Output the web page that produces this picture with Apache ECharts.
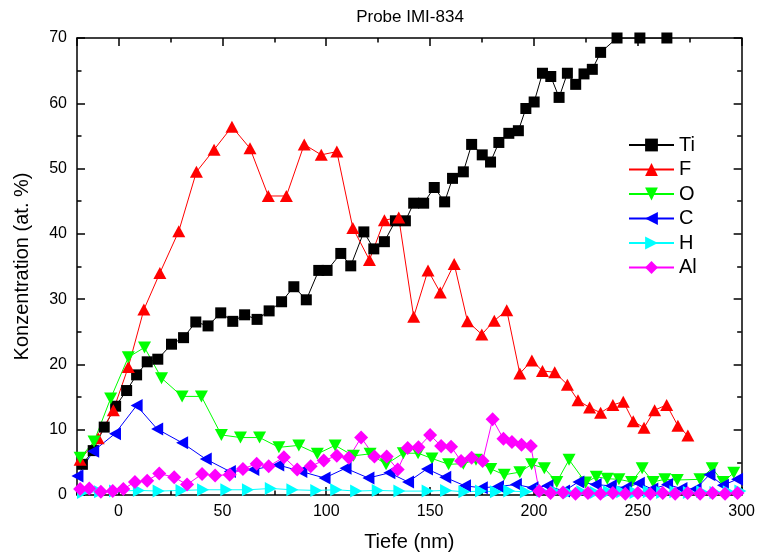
<!DOCTYPE html>
<html>
<head>
<meta charset="utf-8">
<script src="https://cdn.jsdelivr.net/npm/echarts@6/dist/echarts.min.js"></script>
<style>html,body{margin:0;padding:0;background:#fff}#c{width:758px;height:557px}</style>
</head>
<body>
<div id="c"></div>
<script>
// ---- data ----
const tiX = [-17.4,-12.2,-6.9,-1.4,3.9,8.7,13.8,18.9,25.5,31.3,37.2,43.1,49.2,55.0,60.7,66.7,72.5,78.5,84.4,90.4,96.4,100.4,107.0,111.8,118.1,122.9,128.0,133.3,138.1,142.1,146.9,152.0,157.0,160.8,166.0,170.0,175.1,179.1,183.1,187.9,192.5,196.1,200.1,204.1,208.1,212.1,216.1,220.1,224.1,228.1,232.1,240.0,251.0,264.0];
const tiY = [4.7,6.8,10.4,13.6,16.0,18.4,20.4,20.8,23.1,24.1,26.5,25.9,27.9,26.6,27.6,26.9,28.2,29.6,31.9,29.9,34.4,34.4,37.0,35.1,40.3,37.7,38.8,42.0,42.0,44.7,44.7,47.1,44.9,48.5,49.5,53.7,52.1,51.0,54.0,55.4,55.8,59.2,60.2,64.6,64.1,60.9,64.6,62.9,64.5,65.2,67.8,70,70,70];

const fX = [-18.5,-9.8,-2.5,4.7,12.2,19.9,29.0,37.5,46.0,54.6,63.3,72.1,80.8,89.4,97.6,105.1,112.8,120.8,128.0,134.9,142.1,149.0,154.9,161.6,168.0,174.9,180.9,186.9,193.2,199.0,204.1,210.0,216.1,221.2,226.8,232.1,238.0,243.0,247.8,253.0,258.1,263.9,269.3,274.1];
const fY = [5.4,8.7,13.0,19.6,28.4,34.0,40.4,49.5,52.9,56.4,53.1,45.8,45.8,53.7,52.1,52.6,40.9,36.0,42.1,42.5,27.3,34.4,31.0,35.4,26.6,24.6,26.7,28.3,18.6,20.6,19.0,18.8,16.9,14.5,13.4,12.6,13.8,14.3,11.3,10.3,13.0,13.8,10.6,9.1];

const oX = [-18.5,-11.8,-3.8,4.7,12.5,20.7,30.6,39.9,49.5,58.7,67.9,77.2,86.8,95.7,104.3,113.1,121.1,128.8,137.1,144.2,150.9,158.9,166.0,172.1,179.2,185.7,193.2,198.9,205.0,211.0,216.9,224.9,230.0,235.3,240.9,247.0,252.1,257.4,263.0,269.0,279.9,285.8,291.1,296.2];
const oY = [5.7,8.2,14.8,21.1,22.6,17.9,15.1,15.1,9.2,8.8,8.8,7.3,7.6,6.3,7.6,6.0,6.3,4.7,6.4,6.4,5.6,4.7,4.8,5.4,4.0,3.1,3.5,4.7,4.1,2.0,5.4,1.9,2.8,2.5,2.4,2.0,4.1,2.0,2.4,2.3,2.4,4.1,2.0,3.4];

const cX = [-19.8,-12.2,-1.7,8.7,18.6,30.6,42.0,53.6,64.9,76.9,88.0,99.2,109.3,120.3,130.4,139.4,148.5,157.3,166.8,174.9,182.7,191.3,199.3,206.5,214.5,221.4,229.7,237.0,244.2,250.5,257.0,264.1,271.0,277.8,284.5,291.0,297.8];
const cY = [2.9,6.7,9.4,13.7,10.1,8.0,5.5,3.6,3.9,4.6,3.6,2.6,4.1,2.6,3.4,2.0,4.0,2.7,1.4,1.1,1.3,1.6,1.1,1.4,0.6,2.0,1.6,1.4,1.1,1.8,0.9,1.6,1.0,0.9,3.1,1.5,2.4];

const hX = [-17.1,-8.9,-1.7,9.8,19.3,30.3,40.7,51.9,62.3,73.3,83.7,95.2,104.8,114.4,124.8,135.2,148.8,157.7,166.5,174.5,181.7,188.1,196.1,204.1,210.5,216.9,223.3,229.7,236.1,242.5,248.9,255.3,261.7,268.1,274.6,281.0,287.4,293.8,299.4];
const hY = [0.4,0.5,0.6,0.7,0.6,0.7,0.8,0.8,0.8,1.0,0.8,0.7,0.8,0.6,0.7,0.6,0.6,0.7,0.5,0.6,0.5,0.6,0.5,0.6,0.5,0.4,0.5,0.4,0.5,0.5,0.4,0.5,0.4,0.5,0.4,0.5,0.4,0.5,0.6];

const alX = [-18.5,-14.1,-8.5,-2.8,2.3,7.9,13.8,19.6,26.8,33.0,40.2,46.5,53.5,59.9,66.5,72.3,79.6,86.0,92.5,98.8,105.1,110.9,116.8,123.2,129.1,134.4,139.2,144.4,150.0,155.3,160.1,164.9,170.0,175.3,180.1,185.3,189.4,194.0,198.5,202.5,208,214,220,226,232,238,244,250,256,262,268,274,280,286,292,298];
const alY = [0.9,1.0,0.5,0.6,0.9,2.0,2.2,3.3,2.7,1.6,3.2,3.0,3.1,4.0,4.8,4.4,5.8,3.9,4.4,5.3,6.0,5.7,8.8,5.9,5.9,3.9,7.2,7.3,9.2,7.5,7.4,5.2,5.7,5.2,11.6,8.6,8.1,7.7,7.5,0.6,0.3,0.4,0.2,0.3,0.2,0.3,0.2,0.3,0.2,0.3,0.2,0.3,0.2,0.3,0.2,0.3];

const seriesNames = ['Ti','F','O','C','H','Al'];
const xTickLabels = [0,50,100,150,200,250,300];
const yTickLabels = [0,10,20,30,40,50,60,70];

// ---- chart ----
const FONT = "'Liberation Sans', Arial, sans-serif";
const pair = (xs, ys) => xs.map((x, i) => [x, ys[i]]);
const chart = echarts.init(document.getElementById('c'), null, {renderer: 'canvas'});

const tickBase = {show: true, inside: true, length: 8, lineStyle: {color: '#000', width: 1.5}};
const minorBase = {show: true, splitNumber: 2, length: 4.5, lineStyle: {color: '#000', width: 1.5}};
const lineBase = {show: true, onZero: false, lineStyle: {color: '#000', width: 1.5}};

function mkSeries(name, xs, ys, color, symbol, rot, size) {
  return {
    name, type: 'line', data: pair(xs, ys),
    symbol, symbolRotate: rot, symbolSize: size,
    showAllSymbol: true, clip: true,
    lineStyle: {color, width: 1},
    itemStyle: {color, borderWidth: 0},
    emphasis: {disabled: true},
    animation: false
  };
}

chart.setOption({
  animation: false,
  backgroundColor: '#fff',
  title: {
    text: 'Probe IMI-834', left: 410, top: 9, textAlign: 'center', padding: 0,
    textStyle: {fontFamily: FONT, fontSize: 17, fontWeight: 'normal', color: '#000'}
  },
  grid: {left: 77, right: 14, top: 38, bottom: 58, containLabel: false},
  legend: {
    orient: 'vertical', left: 628, top: 135, padding: 0,
    itemWidth: 45, itemHeight: 16, itemGap: 4.5,
    data: seriesNames,
    textStyle: {fontFamily: FONT, fontSize: 20, color: '#000', lineHeight: 20},
    selectedMode: false
  },
  xAxis: [{
    type: 'value', min: -20, max: 300, splitNumber: 6, position: 'bottom',
    name: 'Tiefe (nm)', nameLocation: 'middle', nameGap: 37,
    nameTextStyle: {fontFamily: FONT, fontSize: 20, color: '#000'},
    axisLine: lineBase, axisTick: tickBase, minorTick: minorBase,
    splitLine: {show: false},
    axisLabel: {fontFamily: FONT, fontSize: 16, color: '#000', margin: 9,
      formatter: v => xTickLabels.indexOf(v) >= 0 ? String(v) : ''}
  }, {
    type: 'value', min: -20, max: 300, splitNumber: 6, position: 'top',
    axisLine: lineBase, axisTick: tickBase, minorTick: minorBase,
    splitLine: {show: false}, axisLabel: {show: false}
  }],
  yAxis: [{
    type: 'value', min: 0, max: 70, interval: 10, position: 'left',
    name: 'Konzentration (at. %)', nameLocation: 'middle', nameGap: 45,
    nameTextStyle: {fontFamily: FONT, fontSize: 20, color: '#000'},
    axisLine: lineBase, axisTick: tickBase, minorTick: minorBase,
    splitLine: {show: false},
    axisLabel: {fontFamily: FONT, fontSize: 16, color: '#000', margin: 10,
      formatter: v => yTickLabels.indexOf(v) >= 0 ? String(v) : ''}
  }, {
    type: 'value', min: 0, max: 70, interval: 10, position: 'right',
    axisLine: lineBase, axisTick: tickBase, minorTick: minorBase,
    splitLine: {show: false}, axisLabel: {show: false}
  }],
  series: [
    mkSeries('Ti', tiX, tiY, '#000000', 'rect', 0, 11),
    mkSeries('F', fX, fY, '#ff0000', 'triangle', 0, [13, 12]),
    mkSeries('O', oX, oY, '#00ff00', 'triangle', 180, [13, 12]),
    mkSeries('C', cX, cY, '#0000ff', 'triangle', 90, [13, 12]),
    mkSeries('H', hX, hY, '#00ffff', 'triangle', -90, [13, 12]),
    mkSeries('Al', alX, alY, '#ff00ff', 'diamond', 0, 14)
  ]
});
</script>
</body>
</html>
